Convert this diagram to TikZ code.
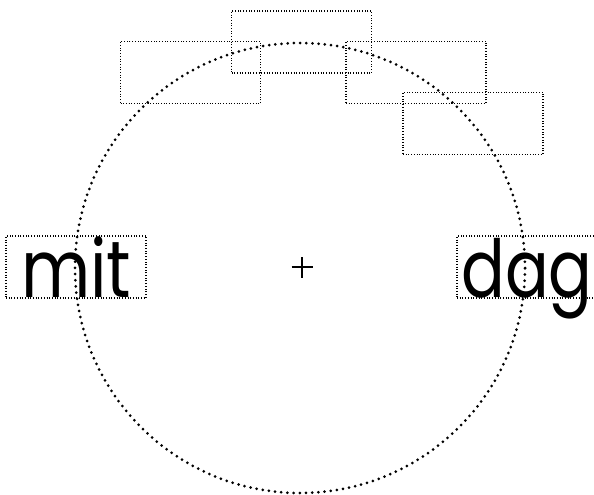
\documentclass[tikz,border=0pt]{standalone}
\usepackage{fontspec}
\usepackage{graphicx}
\setmainfont{Poppins}
\begin{document}
\begin{tikzpicture}[x=1pt,y=-1pt,
  box/.style={draw, line width=1.1pt, dash pattern=on 1pt off 1.7pt, minimum width=140pt, minimum height=62pt, inner sep=0pt},
  bigtext/.style={font=\fontsize{80}{80}\selectfont, inner sep=0pt, anchor=base west},
  ring/.style={draw, circle, minimum size=450pt, inner sep=0pt, line width=3pt, line cap=round, dash pattern=on 0pt off 6.2pt}]
\useasboundingbox (0,0) rectangle (594,495);
\node[box] (a) at (190.5,72.5) {};
\node[box] (b) at (301.5,42) {};
\node[box] (c) at (416,72.5) {};
\node[box] (d) at (473,123.5) {};
\node[box] (mbox) at (76,267) {};
\node[box] (dbox) at (527,267) {};
\node[bigtext] (mt) at (21,297) {\scalebox{0.84}[1]{mit}};
\node[bigtext] (dt) at (461,297) {\scalebox{0.81}[1]{dag}};
\node[ring] (ring) at (300,268) {};
\coordinate (o) at (302,267);
\draw[line width=1.9pt] ([xshift=-10.5pt]o) -- ([xshift=10.5pt]o);
\draw[line width=1.9pt] ([yshift=-10.5pt]o) -- ([yshift=10.5pt]o);
\end{tikzpicture}
\end{document}
